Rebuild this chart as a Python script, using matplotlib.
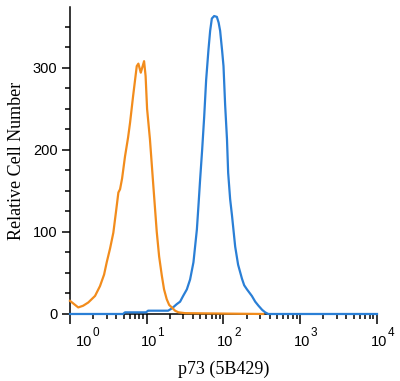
import numpy as np
import matplotlib.pyplot as plt
import matplotlib.transforms as mtransforms
from matplotlib.ticker import FixedLocator, LogLocator, NullFormatter

plt.rcParams['font.family'] = 'Liberation Sans'

# isotype control (orange)
iso_x = [1.00, 1.28, 1.48, 1.73, 2.12, 2.46, 2.78, 3.01, 3.33, 3.67, 3.98, 4.27,
         4.49, 4.77, 5.21, 5.71, 6.06, 6.63, 7.41, 7.78, 8.36, 9.23, 9.66, 10.1,
         11.0, 12.1, 13.5, 14.5, 15.7, 16.8, 18.2, 19.6, 21.2, 23.4, 25.9, 31.6, 329]
iso_y = [16, 8, 10, 14, 22, 34, 48, 63, 80, 99, 125, 148,
         152, 165, 192, 215, 233, 265, 302, 305, 294, 308, 290, 250,
         213, 160, 100, 70, 47, 30, 18, 11, 8, 4, 2, 1, 0]

# p73 (5B429) stained (blue)
p73_x = [1.0, 4.91, 5.21, 9.8, 10.4, 19.0, 21.4, 24.6, 27.2, 29.8, 33.3, 36.7,
         40.6, 45.0, 47.4, 49.6, 52.7, 56.0, 59.4, 63.7, 67.0, 70.5, 75.5, 81.9,
         86.4, 90.4, 96.1, 100, 105, 111, 115, 122, 129, 142, 155, 174, 186,
         202, 234, 259, 286, 319, 349, 383, 10000]
p73_y = [0, 0, 2, 2, 4, 4, 7, 12, 15, 22, 30, 42,
         63, 103, 135, 164, 200, 240, 285, 322, 345, 360, 363, 362,
         355, 345, 320, 302, 255, 213, 172, 140, 120, 82, 60, 43, 35,
         30, 22, 15, 10, 5, 2, 0, 0]

decades = [0, 1, 2, 3, 4]

fig = plt.figure(figsize=(4.0, 3.81), dpi=100)
ax = fig.add_axes([0.175, 0.1759, 0.7675, 0.8057])

ax.plot(p73_x, p73_y, color='#2a7fd6', lw=1.6, clip_on=False, zorder=3)
ax.plot(iso_x, iso_y, color='#f28c1c', lw=1.6, clip_on=False, zorder=4)

ax.set_xscale('log')
ax.set_xlim(1, 1e4)
ax.set_ylim(0, 374)

for s in ['top', 'right']:
    ax.spines[s].set_visible(False)
for s in ['left', 'bottom']:
    ax.spines[s].set_linewidth(1.1)

ax.set_yticks([0, 100, 200, 300])
ax.yaxis.set_minor_locator(FixedLocator(np.arange(25, 375, 25)))
ax.set_xticks([10.0 ** d for d in decades])
ax.set_xticklabels([])
ax.xaxis.set_minor_locator(LogLocator(base=10, subs=np.arange(2, 10)))
ax.xaxis.set_minor_formatter(NullFormatter())

ax.tick_params(axis='y', which='major', length=6, width=1.1, direction='out',
               labelsize=10.5, pad=3)
ax.tick_params(axis='y', which='minor', length=3.6, width=1.1, direction='out')
ax.tick_params(axis='x', which='major', length=7.2, width=1.1, direction='out')
ax.tick_params(axis='x', which='minor', length=3.6, width=1.1, direction='out')

# x tick labels drawn as "10" with a large raised exponent
base = mtransforms.blended_transform_factory(ax.transData, ax.transAxes)
def shift(dx, dy):
    return base + mtransforms.ScaledTranslation(dx / 100, dy / 100, fig.dpi_scale_trans)

for d in decades:
    off = 14 if d == 0 else 2
    ax.text(10.0 ** d, 0, '10', transform=shift(off, -32), ha='center',
            va='baseline', fontsize=10.5, clip_on=False)
    ax.text(10.0 ** d, 0, str(d), transform=shift(off + 8.7, -22), ha='left',
            va='baseline', fontsize=8.5, clip_on=False)

ax.set_xlabel('p73 (5B429)', fontfamily='Liberation Serif', fontsize=13)
ax.xaxis.set_label_coords(0.5, -0.152)
ax.set_ylabel('Relative Cell Number', fontfamily='Liberation Serif', fontsize=13)
ax.yaxis.set_label_coords(-0.146, 0.5)

fig.savefig('out.png', dpi=100)
